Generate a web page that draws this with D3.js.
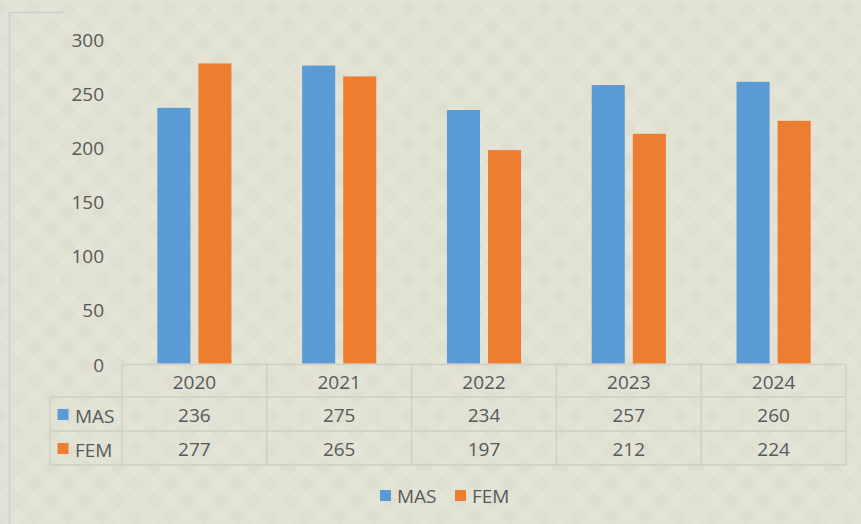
<!DOCTYPE html>
<html>
<head>
<meta charset="utf-8">
<script src="https://cdn.jsdelivr.net/npm/d3@7"></script>
<style>
  body { margin: 0; background: #e1e2d3; }
  svg { display: block; }
</style>
</head>
<body>
<div id="chart"></div>
<script>
// data
const years = ["2020", "2021", "2022", "2023", "2024"];
const seriesNames = ["MAS", "FEM"];
const masValues = [236, 275, 234, 257, 260];
const femValues = [277, 265, 197, 212, 224];
const yTicks = [0, 50, 100, 150, 200, 250, 300];

const colors = { MAS: "#5b9bd5", FEM: "#ed7d31" };
const textColor = "#595959";
const lineColor = "#cfd0c6";
const font = "'Open Sans', sans-serif";
const fontSize = "19px";

const width = 861, height = 524;

let svg = d3.select('#chart')
    .append('svg')
    .attr('width', width)
    .attr('height', height);

// textured background
let defs = svg.append('defs');
let pat = defs.append('pattern')
    .attr('id', 'bg')
    .attr('width', 24)
    .attr('height', 24)
    .attr('patternUnits', 'userSpaceOnUse')
    .attr('patternTransform', 'rotate(45)');
pat.append('rect').attr('width', 24).attr('height', 24).attr('fill', '#e1e2d3');
pat.append('rect').attr('width', 12).attr('height', 12).attr('fill', '#dedfd0');
pat.append('rect').attr('x', 12).attr('y', 12).attr('width', 12).attr('height', 12).attr('fill', '#e3e4d6');
svg.append('rect').attr('width', width).attr('height', height).attr('fill', 'url(#bg)');

// partial frame
svg.append('path')
    .attr('d', 'M63,12.5H9.5V524')
    .attr('fill', 'none')
    .attr('stroke', '#cdd0d6')
    .attr('stroke-width', 1.5);

let x = d3.scaleBand()
    .domain(years)
    .range([122, 846]);

let x1 = d3.scaleBand()
    .domain(seriesNames)
    .range([0, x.bandwidth()])
    .paddingInner(0.195)
    .paddingOuter(0.86);

let y = d3.scaleLinear()
    .domain([0, 300])
    .range([363.5, 38.5]);

// y axis labels
let yAxis = d3.axisLeft(y)
    .tickValues(yTicks)
    .tickSize(0)
    .tickPadding(0);
let gy = svg.append('g')
    .attr('transform', 'translate(104,1.5)')
    .call(yAxis);
gy.select('.domain').remove();
gy.selectAll('text')
    .attr('fill', textColor)
    .style('font-family', font)
    .style('font-size', fontSize);

// bars
const seriesData = { MAS: masValues, FEM: femValues };
seriesNames.forEach(function (s) {
    svg.append('g')
        .selectAll('rect')
        .data(seriesData[s])
        .enter()
        .append('rect')
        .attr('x', (d, i) => x(years[i]) + x1(s))
        .attr('y', d => y(d))
        .attr('width', x1.bandwidth())
        .attr('height', d => y(0) - y(d))
        .attr('fill', colors[s]);
});

// data table
const rowTop = 364.5, rowH = [32.5, 34, 34];
const rows = [rowTop, rowTop + rowH[0], rowTop + rowH[0] + rowH[1], rowTop + rowH[0] + rowH[1] + rowH[2]];
const legendLeft = 50;
let table = svg.append('g')
    .attr('stroke', lineColor)
    .attr('stroke-width', 1.5)
    .attr('fill', 'none');

table.append('line').attr('x1', x.range()[0]).attr('x2', x.range()[1]).attr('y1', rows[0]).attr('y2', rows[0]);
[1, 2, 3].forEach(function (r) {
    table.append('line').attr('x1', legendLeft).attr('x2', x.range()[1]).attr('y1', rows[r]).attr('y2', rows[r]);
});
table.append('line').attr('x1', legendLeft).attr('x2', legendLeft).attr('y1', rows[1]).attr('y2', rows[3]);
years.forEach(function (yr) {
    table.append('line').attr('x1', x(yr)).attr('x2', x(yr)).attr('y1', rows[0]).attr('y2', rows[3]);
});
table.append('line').attr('x1', x.range()[1]).attr('x2', x.range()[1]).attr('y1', rows[0]).attr('y2', rows[3]);

let cellText = svg.append('g')
    .attr('fill', textColor)
    .style('font-family', font)
    .style('font-size', fontSize)
    .attr('text-anchor', 'middle')
    .attr('dominant-baseline', 'central');

cellText.selectAll('.yr')
    .data(years)
    .enter()
    .append('text')
    .attr('x', d => x(d) + x.bandwidth() / 2)
    .attr('y', (rows[0] + rows[1]) / 2 + 1)
    .text(d => d);

seriesNames.forEach(function (s, k) {
    let cy = (rows[k + 1] + rows[k + 2]) / 2 + 1;
    cellText.append('g')
        .selectAll('text')
        .data(seriesData[s])
        .enter()
        .append('text')
        .attr('x', (d, i) => x(years[i]) + x.bandwidth() / 2)
        .attr('y', cy)
        .text(d => d);
    svg.append('rect')
        .attr('x', 57.5)
        .attr('y', cy - 6)
        .attr('width', 11)
        .attr('height', 11)
        .attr('fill', colors[s]);
    svg.append('text')
        .attr('x', 75)
        .attr('y', cy + 1)
        .attr('dominant-baseline', 'central')
        .attr('fill', textColor)
        .style('font-family', font)
        .style('font-size', fontSize)
        .text(s);
});

// legend
const legendX = [380, 455];
let legend = svg.append('g');
seriesNames.forEach(function (s, i) {
    legend.append('rect')
        .attr('x', legendX[i])
        .attr('y', 490)
        .attr('width', 11)
        .attr('height', 11)
        .attr('fill', colors[s]);
    legend.append('text')
        .attr('x', legendX[i] + 17)
        .attr('y', 496)
        .attr('dominant-baseline', 'central')
        .attr('fill', textColor)
        .style('font-family', font)
        .style('font-size', fontSize)
        .text(s);
});
</script>
</body>
</html>
